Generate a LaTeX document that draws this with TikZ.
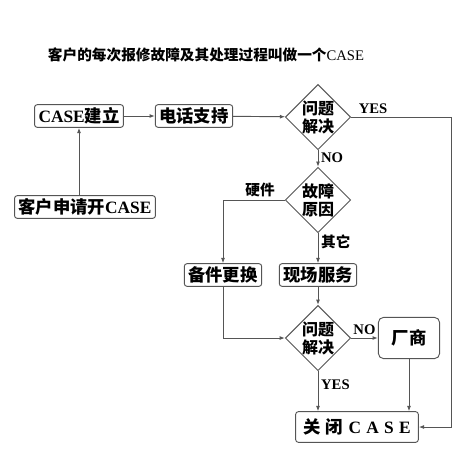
\documentclass[tikz,border=0pt]{standalone}
\usepackage{fontspec}
\setmainfont{Noto Sans CJK SC}
\newfontfamily\lat{Liberation Serif}
\usepackage{tikz}
\usetikzlibrary{shapes.geometric,arrows.meta,positioning,calc}
\definecolor{edge}{RGB}{85,85,85}
\begin{document}
\begin{tikzpicture}[x=0.75pt,y=-0.75pt,
  box/.style={draw=edge,rounded corners=2pt,line width=0.7pt,inner xsep=3pt,inner ysep=0pt,minimum height=17pt,font=\fontsize{13}{15}\selectfont\bfseries},
  dia/.style={diamond,draw=edge,line width=0.7pt,aspect=1,inner sep=0pt,minimum width=48pt,minimum height=48pt,align=center,font=\fontsize{12}{13.5}\selectfont\bfseries},
  lbl/.style={font=\fontsize{11}{13}\selectfont\bfseries,inner sep=2pt},
  arr/.style={draw=edge,line width=0.7pt,-{Latex[length=4pt,width=3pt]}}]
  \useasboundingbox (0,0) rectangle (464,476);
  % Title
  \node[font=\fontsize{11}{13}\selectfont\bfseries] (title) at (206,55) {客户的每次报修故障及其处理过程叫做一个{\lat\mdseries CASE}};
  % Boxes
  \node[box] (open) at (79,116) {{\lat CASE}建立};
  \node[box] (phone) at (194,116) {电话支持};
  \node[box] (apply) at (85,207) {客户申请开{\lat CASE}};
  \node[box] (spare) at (223,275) {备件更换};
  \node[box] (onsite) at (318,275) {现场服务};
  \node[box,rounded corners=4pt,minimum width=46pt,minimum height=31pt] (vendor) at (409,338) {厂商};
  \node[box,minimum width=92pt,minimum height=23pt] (close) at (357,427) {关\hspace{4pt}闭\hspace{4pt}{\lat C\hspace{4pt}A\hspace{4pt}S\hspace{4pt}E}};
  % Decisions
  \node[dia] (q1) at (318,117) {问题\\解决};
  \node[dia] (q2) at (318,200) {故障\\原因};
  \node[dia] (q3) at (318,338) {问题\\解决};
  \coordinate (rt) at (451,117);
  % Flow
  \draw[arr] (apply.north -| open) -- (open);
  \draw[arr] (open) -- (phone);
  \draw[arr] (phone) -- (q1);
  \draw[arr] (q1.east) -- node[lbl,above,pos=0.22]{\lat YES} (rt) |- (close.east);
  \draw[arr] (q1.south) -- node[lbl,right,pos=0.45]{\lat NO} (q2.north);
  \draw[arr] (q2.west) -| node[lbl,above,pos=0.2]{硬件} (spare.north);
  \draw[arr] (q2.south) -- node[lbl,right,pos=0.3]{其它} (onsite.north);
  \draw[arr] (spare.south) |- (q3.west);
  \draw[arr] (onsite.south) -- (q3.north);
  \draw[arr] (q3.east) -- node[lbl,above]{\lat NO} (vendor.west);
  \draw[arr] (vendor.south) -- (vendor.south |- close.north);
  \draw[arr] (q3.south) -- node[lbl,right,pos=0.35]{\lat YES} (q3.south |- close.north);
\end{tikzpicture}
\end{document}
